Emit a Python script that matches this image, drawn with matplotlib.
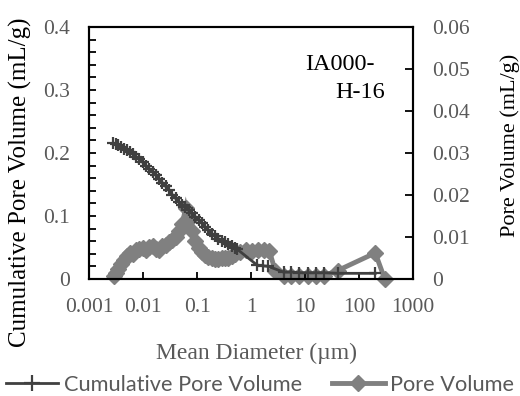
import matplotlib
matplotlib.use("Agg")
import matplotlib.pyplot as plt
from matplotlib.lines import Line2D

# ---------------- data ----------------
diam_cum = [0.0028, 0.0031, 0.0035, 0.0039, 0.0044, 0.0050, 0.0057, 0.0065, 0.0075, 0.0086,
            0.0099, 0.0114, 0.0131, 0.0150, 0.0172, 0.0198, 0.0228, 0.0262, 0.0302, 0.0348,
            0.0400, 0.0460, 0.0530, 0.0610, 0.0700, 0.0810, 0.0930, 0.107, 0.123, 0.142,
            0.163, 0.188, 0.216, 0.249, 0.287, 0.330, 0.380, 0.437, 0.503, 0.560,
            1.30, 1.65, 2.10, 4.0, 5.6, 7.9, 11.2, 15.8, 22.4, 40, 200]
cum_vol = [0.216, 0.214, 0.212, 0.209, 0.207, 0.204, 0.201, 0.198, 0.194, 0.190,
           0.185, 0.180, 0.175, 0.170, 0.165, 0.159, 0.153, 0.147, 0.141, 0.134,
           0.128, 0.122, 0.118, 0.114, 0.109, 0.104, 0.099, 0.094, 0.089, 0.083,
           0.077, 0.072, 0.068, 0.064, 0.061, 0.058, 0.055, 0.052, 0.049, 0.047,
           0.022, 0.021, 0.020, 0.011, 0.011, 0.010, 0.010, 0.010, 0.010, 0.009, 0.009]

diam_pore = [0.0029, 0.0031, 0.0035, 0.0039, 0.0044, 0.0050, 0.0057, 0.0065, 0.0075, 0.0086,
             0.0099, 0.0114, 0.0131, 0.0150, 0.0172, 0.0198, 0.0228, 0.0262, 0.0302, 0.0348,
             0.0400, 0.0460, 0.0530, 0.0620, 0.0700, 0.0810, 0.0930, 0.107, 0.123, 0.142,
             0.163, 0.188, 0.216, 0.249, 0.287, 0.330, 0.380, 0.437, 0.503, 0.620,
             0.80, 1.05, 1.35, 1.75, 2.2, 2.8, 4.0, 5.6, 7.9, 11.2, 15.8, 22.4, 40, 200, 300]
pore_vol = [0.0008, 0.0015, 0.0025, 0.0035, 0.0045, 0.0055, 0.0062, 0.0060, 0.0068, 0.0072,
            0.0075, 0.0070, 0.0076, 0.0078, 0.0072, 0.0068, 0.0078, 0.0082, 0.0088, 0.0092,
            0.0100, 0.0115, 0.0130, 0.0170, 0.0140, 0.0115, 0.0090, 0.0075, 0.0065, 0.0058,
            0.0052, 0.0050, 0.0048, 0.0048, 0.0050, 0.0050, 0.0050, 0.0054, 0.0060, 0.0064,
            0.0068, 0.0066, 0.0068, 0.0069, 0.0066, 0.0020, 0.0008, 0.0007, 0.0007, 0.0007,
            0.0007, 0.0008, 0.0020, 0.0062, 0.0]

x_ticks = [0.001, 0.01, 0.1, 1, 10, 100, 1000]
x_tick_labels = ["0.001", "0.01", "0.1", "1", "10", "100", "1000"]
y1_ticks = [0, 0.1, 0.2, 0.3, 0.4]
y1_tick_labels = ["0", "0.1", "0.2", "0.3", "0.4"]
y2_ticks = [0, 0.01, 0.02, 0.03, 0.04, 0.05, 0.06]
y2_tick_labels = ["0", "0.01", "0.02", "0.03", "0.04", "0.05", "0.06"]

# ---------------- style ----------------
SERIF = ["Liberation Serif", "DejaVu Serif"]
SANS = ["Lato", "DejaVu Sans"]
TICK_GRAY = "#595959"
CUM_COLOR = "#404040"
PORE_COLOR = "#808080"
FS = 15.5

fig = plt.figure(figsize=(5.2, 3.96), dpi=100)
ax = fig.add_axes([89 / 520, 1 - 279 / 396, (413 - 89) / 520, (279 - 27) / 396])
ax2 = ax.twinx()

ax2.plot(diam_pore, pore_vol, color=PORE_COLOR, lw=3.5, marker="D", ms=8.5,
         mec=PORE_COLOR, mfc=PORE_COLOR, solid_joinstyle="miter", clip_on=False)
ax.plot(diam_cum, cum_vol, color=CUM_COLOR, lw=2.0, marker="+", ms=8, mew=1.6,
        clip_on=False)

ax.set_zorder(ax2.get_zorder() + 1)
ax.patch.set_visible(False)

ax.set_xscale("log")
ax.set_xlim(0.001, 1000)
ax.set_ylim(0, 0.4)
ax2.set_ylim(0, 0.06)

ax.set_xticks(x_ticks)
ax.set_xticklabels(x_tick_labels)
ax.xaxis.set_minor_locator(matplotlib.ticker.NullLocator())
ax.set_yticks(y1_ticks)
ax.set_yticklabels(y1_tick_labels)
ax.set_yticks([i * 0.02 for i in range(21)], minor=True)
ax2.set_yticks(y2_ticks)
ax2.set_yticklabels(y2_tick_labels)

for a in (ax, ax2):
    for s in a.spines.values():
        s.set_linewidth(1.5)
        s.set_color("black")

ax.tick_params(axis="x", which="major", direction="in", length=5, width=1.3,
               pad=14, labelsize=FS, labelcolor=TICK_GRAY, top=False)
ax.tick_params(axis="y", which="major", direction="in", length=5, width=1.3,
               pad=14, labelsize=FS, labelcolor=TICK_GRAY)
ax.tick_params(axis="y", which="minor", direction="in", length=5, width=1.3)
ax2.tick_params(axis="y", which="major", direction="in", length=6, width=1.3,
                pad=14, labelsize=FS, labelcolor=TICK_GRAY)

for lbl in ax.get_xticklabels() + ax.get_yticklabels() + ax2.get_yticklabels():
    lbl.set_family(SERIF)

fig.text(256 / 520, 1 - 353 / 396, "Mean Diameter (\u00b5m)", ha="center", va="center",
         fontsize=17, color=TICK_GRAY, family=SERIF)
fig.text(20 / 520, 1 - 182 / 396, "Cumulative Pore Volume (mL/g)", ha="center",
         va="center", rotation=90, fontsize=18, color="black", family=SERIF)
fig.text(510 / 520, 1 - 145 / 396, "Pore Volume (mL/g)", ha="center",
         va="center", rotation=90, fontsize=16, color="black", family=SERIF)

fig.text(375 / 520, 1 - 65 / 396, "IA000-", ha="right", va="center",
         fontsize=17.5, color="black", family=SERIF)
fig.text(385 / 520, 1 - 93 / 396, "H-16", ha="right", va="center",
         fontsize=17.5, color="black", family=SERIF)

handles = [
    Line2D([], [], color=CUM_COLOR, lw=2.0, marker="+", ms=11, mew=1.6),
    Line2D([], [], color=PORE_COLOR, lw=3.5, marker="D", ms=8.5),
]
fig.legend(handles, ["Cumulative Pore Volume", "Pore Volume"], loc="center",
           bbox_to_anchor=(260 / 520, 1 - 385 / 396), ncol=2, frameon=False,
           prop={"family": SANS, "size": 15.7}, labelcolor=TICK_GRAY,
           handlelength=2.4, handletextpad=0.25, columnspacing=1.4, borderpad=0)

fig.savefig("out.png", dpi=100)
